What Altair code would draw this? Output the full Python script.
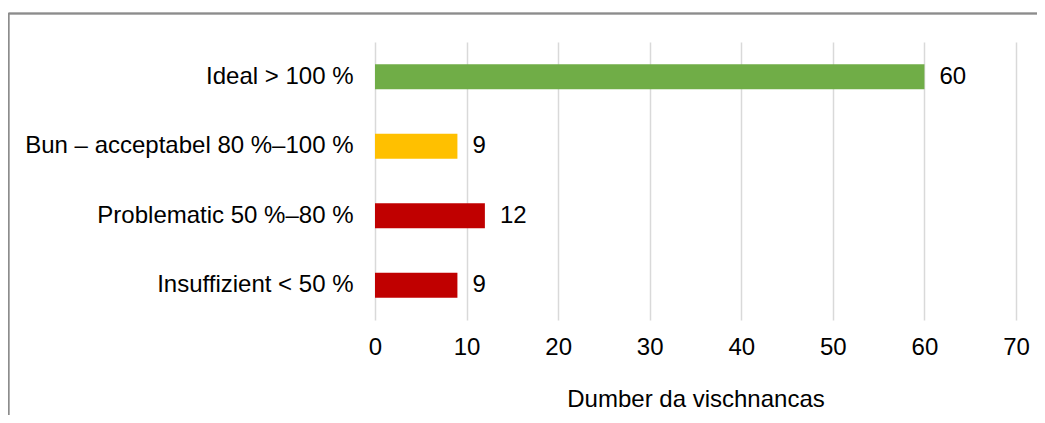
import altair as alt
import pandas as pd

categories = ["Ideal > 100 %", "Bun – acceptabel 80 %–100 %", "Problematic 50 %–80 %", "Insuffizient < 50 %"]
values = [60, 9, 12, 9]
colors = ["#70AD47", "#FFC000", "#C00000", "#C00000"]
x_ticks = [0, 10, 20, 30, 40, 50, 60, 70]

df = pd.DataFrame({"cat": categories, "val": values, "col": colors})

FONT = "Liberation Sans"
W, H = 641, 278

base = alt.Chart(df)

y_enc = alt.Y("cat:N", sort=categories, title=None,
              scale=alt.Scale(paddingInner=0.64, paddingOuter=0.32),
              axis=alt.Axis(ticks=False, domain=False, labelPadding=22, labelFontSize=24,
                            labelFont=FONT, labelColor="#000000", labelLimit=400))
x_enc = alt.X("val:Q", title="Dumber da vischnancas",
              scale=alt.Scale(domain=[0, 70], nice=False),
              axis=alt.Axis(values=x_ticks, ticks=False, domain=False, labelPadding=15,
                            labelFlush=False,
                            labelFontSize=24, labelFont=FONT, labelColor="#000000",
                            titleFontSize=24, titleFont=FONT, titleColor="#000000",
                            titleFontWeight="normal", titlePadding=28,
                            grid=True, gridColor="#D9D9D9", gridWidth=1.5))

bars = base.mark_bar().encode(x=x_enc, y=y_enc, color=alt.Color("col:N", scale=None))
labels = base.mark_text(align="left", baseline="middle", dx=15, fontSize=24, font=FONT,
                        color="#000000").encode(x="val:Q", y=alt.Y("cat:N", sort=categories), text="val:Q")

frame_top = base.mark_rule(color="#8C8C8C", strokeWidth=1.5).encode(
    x=alt.value(-366.5), x2=alt.value(W + 60), y=alt.value(-28.5))
frame_left = base.mark_rule(color="#8C8C8C", strokeWidth=1.5).encode(
    x=alt.value(-366.5), y=alt.value(-28.5), y2=alt.value(H + 150))

chart = alt.layer(bars, labels, frame_top, frame_left).properties(
    width=W, height=H,
    autosize=alt.AutoSizeParams(type="none"),
    padding={"left": 367, "top": 34, "right": 21, "bottom": 95},
).configure_view(stroke=None)

chart.save("out.html", embed_options={"renderer": "svg", "actions": False})
